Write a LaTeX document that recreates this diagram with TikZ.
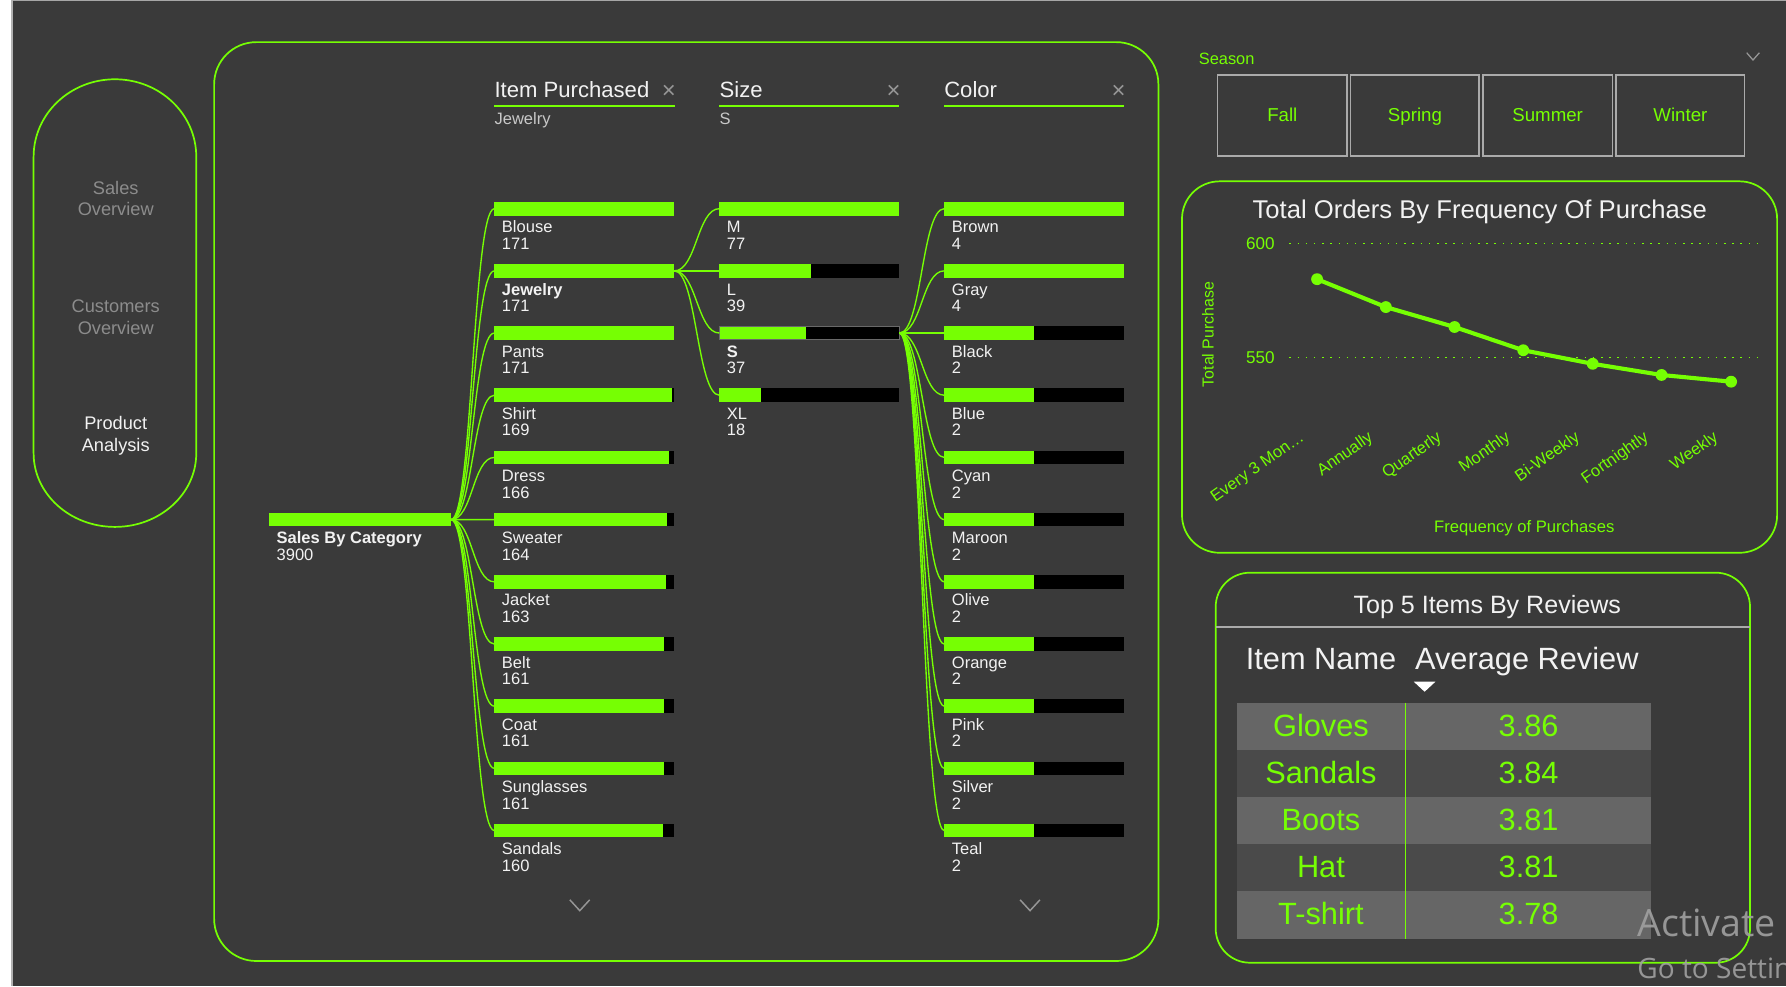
\documentclass[tikz,border=0pt]{standalone}
\usepackage{fontspec}
\setmainfont{Liberation Sans}
\newfontfamily\wmfont{Open Sans}
\definecolor{bg}{RGB}{58,58,58}
\definecolor{grn}{RGB}{118,255,3}
\definecolor{txt}{RGB}{242,242,242}
\definecolor{navgray}{RGB}{140,140,140}
\definecolor{subgray}{RGB}{200,200,200}
\definecolor{xgray}{RGB}{150,150,150}
\definecolor{boxgray}{RGB}{170,170,170}
\definecolor{rowlight}{RGB}{102,102,102}
\definecolor{rowdark}{RGB}{74,74,74}
\definecolor{wm}{RGB}{160,160,160}
\newcommand\fs[1]{\fontsize{#1}{#1}\selectfont}
\begin{document}
\begin{tikzpicture}[x=1pt,y=-1pt,
  frame/.style={draw=grn, line width=1.5pt},
  conn/.style={draw=grn, line width=1.2pt},
  barbg/.style={fill=black, draw=none, inner sep=0, outer sep=0, minimum height=12pt, anchor=north west},
  lbl/.style={text=txt, font=\fs{14.5}, inner sep=0, anchor=base west},
  navtxt/.style={font=\fs{16}, inner sep=0, anchor=base},
  hdr/.style={text=txt, font=\fs{19.4}, inner sep=0, anchor=base west},
  subl/.style={text=subgray, font=\fs{14.5}, inner sep=0, anchor=base west},
  xmark/.style={text=xgray, font=\fs{21}, inner sep=0},
  gtxt/.style={text=grn, inner sep=0},
  chev/.style={draw=xgray, line width=1.3pt},
  seasonbox/.style={draw=boxgray, line width=1.5pt, inner sep=0, anchor=north west, text=grn, font=\fs{16.4}, text height=11.7pt, text depth=0pt},
  cell/.style={text=grn, font=\fs{27}, inner sep=0, anchor=base},
  thead/.style={text=txt, font=\fs{27}, inner sep=0, anchor=base west}
]
\useasboundingbox (0,0) rectangle (1568,866);
% background
\fill[white] (0,0) rectangle (10.5,866);
\fill[bg] (10.5,0) rectangle (1568,866);
\draw[gray!70, line width=1.2pt] (10.5,0.6) -- (1568,0.6);
\draw[gray!60, line width=1pt] (10.5,0) -- (10.5,866);

% navigation pill
\draw[frame] (29.5,137.6) -- (29.5,398)
  arc[start angle=180, end angle=0, x radius=71.4, y radius=64.6]
  -- (172.3,137.6)
  arc[start angle=0, end angle=-180, x radius=71.4, y radius=68];
\node[navtxt, text=navgray] (nav1a) at (101.6,170.6) {Sales};
\node[navtxt, text=navgray] (nav1b) at (101.6,189.6) {Overview};
\node[navtxt, text=navgray] (nav2a) at (101.6,274.5) {Customers};
\node[navtxt, text=navgray] (nav2b) at (101.6,293.3) {Overview};
\node[navtxt, text=txt] (nav3a) at (101.6,377) {Product};
\node[navtxt, text=txt] (nav3b) at (101.6,396) {Analysis};

% main frame
\draw[frame, rounded corners=37pt] (188,37) rectangle (1017,843.7);

% headers
\node[hdr] (hIP) at (434,86) {Item Purchased};
\node[xmark] (xIP) at (587.3,80.5) {×};
\draw[grn, line width=2pt] (434,92.8) -- (592.3,92.8);
\node[subl] (sIP) at (434,109) {Jewelry};
\node[hdr] (hSz) at (631.6,86) {Size};
\node[xmark] (xSz) at (784.5,80.5) {×};
\draw[grn, line width=2pt] (631.6,92.8) -- (789.5,92.8);
\node[subl] (sSz) at (631.6,109.5) {S};
\node[hdr] (hCl) at (828.8,86) {Color};
\node[xmark] (xCl) at (982,80.5) {×};
\draw[grn, line width=2pt] (828.8,92.8) -- (987.1,92.8);

% root
\node[barbg, fill=grn, minimum width=160pt] (root) at (236,450.2) {};
\node[lbl] (rootn) at (242.7,477.4) {\textbf{Sales By Category}};
\node[lbl] (rootv) at (242.7,491.9) {3900};

% items
\foreach \n/\v [count=\k from 0] in {Blouse/171, \textbf{Jewelry}/171, Pants/171, Shirt/169, Dress/166, Sweater/164, Jacket/163, Belt/161, Coat/161, Sunglasses/161, Sandals/160}{
  \pgfmathsetmacro\t{177.2+54.6*\k}
  \pgfmathsetmacro\w{\v/171*158}
  \node[barbg, minimum width=158pt] (i\k) at (434,\t) {};
  \fill[grn] (434,\t) rectangle ++(\w pt,-12pt);
  \node[lbl] (in\k) at ({440.5},{\t+27.2}) {\n};
  \node[lbl] (iv\k) at ({440.5},{\t+41.7}) {\v};
}
% sizes
\foreach \n/\v [count=\k from 0] in {M/77, L/39, \textbf{S}/37, XL/18}{
  \pgfmathsetmacro\t{177.2+54.6*\k}
  \pgfmathsetmacro\w{\v/77*158}
  \node[barbg, minimum width=158pt] (s\k) at (631.6,\t) {};
  \fill[grn] (631.6,\t) rectangle ++(\w pt,-12pt);
  \node[lbl] (sn\k) at ({638},{\t+27.2}) {\n};
  \node[lbl] (sv\k) at ({638},{\t+41.7}) {\v};
}
\draw[draw={rgb,255:red,105;green,105;blue,105}, line width=0.8pt] (s2.north west) rectangle (s2.south east);
% colors
\foreach \n/\v [count=\k from 0] in {Brown/4, Gray/4, Black/2, Blue/2, Cyan/2, Maroon/2, Olive/2, Orange/2, Pink/2, Silver/2, Teal/2}{
  \pgfmathsetmacro\t{177.2+54.6*\k}
  \pgfmathsetmacro\w{\v/4*158}
  \node[barbg, minimum width=158pt] (c\k) at (829,\t) {};
  \fill[grn] (829,\t) rectangle ++(\w pt,-12pt);
  \node[lbl] (cn\k) at ({835.5},{\t+27.2}) {\n};
  \node[lbl] (cv\k) at ({835.5},{\t+41.7}) {\v};
}
% connectors
\foreach \k in {0,...,10}{
  \draw[conn] (root.east) .. controls +(19,0) and +(-19,0) .. (i\k.west);
  \draw[conn] (s2.east) .. controls +(19.7,0) and +(-19.7,0) .. (c\k.west);
}
\foreach \k in {0,...,3}{
  \draw[conn] (i1.east) .. controls +(19.5,0) and +(-19.5,0) .. (s\k.west);
}
% chevrons
\draw[chev] (500.3,790) -- (509,799.5) -- (517.7,790);
\draw[chev] (895.6,790) -- (904.3,799.5) -- (913,790);

% season slicer
\node[gtxt, font=\fs{14.4}, anchor=base west] (season) at (1052.3,56.4) {Season};
\draw[chev, line width=1.1pt] (1533.5,46.3) -- (1539,52.7) -- (1544.6,46.3);
\node[seasonbox, minimum width=113.7pt, minimum height=71pt] (fall) at (1068.2,65) {Fall};
\node[seasonbox, minimum width=113pt, minimum height=71pt] (spring) at (1185,65) {Spring};
\node[seasonbox, minimum width=114pt, minimum height=71pt] (summer) at (1301,65) {Summer};
\node[seasonbox, minimum width=112.6pt, minimum height=71pt] (winter) at (1418.2,65) {Winter};

% line chart panel
\draw[frame, rounded corners=33pt] (1037.7,159.2) rectangle (1560.2,485.3);
\node[text=txt, font=\fs{22.5}, inner sep=0, anchor=base] (ctitle) at (1299.2,191.8) {Total Orders By Frequency Of Purchase};
\draw[grn, line width=1.3pt, dash pattern=on 1.3pt off 5.9pt] (1132,213.8) -- (1543,213.8);
\draw[grn, line width=1.3pt, dash pattern=on 1.3pt off 5.9pt] (1132,313.8) -- (1543,313.8);
\node[gtxt, font=\fs{15}, anchor=base east] (y600) at (1119.2,219.4) {600};
\node[gtxt, font=\fs{15}, anchor=base east] (y550) at (1119.2,319.4) {550};
\node[gtxt, font=\fs{14}, rotate=90] (ylab) at (1060.4,293.6) {Total Purchase};
\coordinate (p1) at (1156.3,245.1);
\coordinate (p2) at (1216.7,269.6);
\coordinate (p3) at (1277.0,287.1);
\coordinate (p4) at (1337.3,307.5);
\coordinate (p5) at (1398.3,319.4);
\coordinate (p6) at (1458.7,329.2);
\coordinate (p7) at (1519.8,335.1);
\draw[grn, line width=3.6pt, line join=round] (p1) -- (p2) -- (p3) -- (p4) -- (p5) -- (p6) -- (p7);
\foreach \i in {1,...,7}{ \fill[grn] (p\i) circle (5.2pt); }
\foreach \x/\t [count=\i] in {1156.3/Every 3 Mon…, 1216.7/Annually, 1277.0/Quarterly, 1337.3/Monthly, 1398.3/Bi-Weekly, 1458.7/Fortnightly, 1519.8/Weekly}{
  \node[gtxt, font=\fs{14.5}, anchor=base east, rotate=35] (xl\i) at ({\x-10.5},386) {\t};
}
\node[gtxt, font=\fs{14.6}, anchor=base] (xlab) at (1338.2,467.7) {Frequency of Purchases};

% table panel
\draw[frame, rounded corners=30pt] (1067.3,502.8) rectangle (1536.4,845.2);
\draw[boxgray, line width=1.8pt] (1067.3,550.2) -- (1536.4,550.2);
\node[text=txt, font=\fs{22}, inner sep=0, anchor=base] (ttitle) at (1305.7,538.5) {Top 5 Items By Reviews};
\node[thead] (th1) at (1093.6,587.6) {Item Name};
\node[thead] (th2) at (1242.2,587.6) {Average Review};
\fill[white] (1241.2,598.5) -- (1260.2,598.5) -- (1250.7,607.3) -- cycle;
\foreach \n/\v/\c [count=\i from 0] in {Gloves/3.86/rowlight, Sandals/3.84/rowdark, Boots/3.81/rowlight, Hat/3.81/rowdark, T-shirt/3.78/rowlight}{
  \pgfmathsetmacro\t{616.9+41.44*\i}
  \fill[\c] (1086,\t) rectangle ({1449.5},{\t+41.44});
  \node[cell] (tn\i) at ({1159.7},{\t+29.3}) {\n};
  \node[cell] (tv\i) at ({1342},{\t+29.3}) {\v};
}
\draw[grn, line width=1pt] (1234,616.9) -- (1234,824.1);

% watermark
\begin{scope}
\clip (0,0) rectangle (1568,866);
\node[text=wm, opacity=0.9, font=\wmfont\fs{33}, inner sep=0, anchor=base west] (wm1) at (1437.4,821.8) {Activate};
\node[text=wm, opacity=0.9, font=\wmfont\fs{24.6}, inner sep=0, anchor=base west] (wm2) at (1437.4,859) {Go to Settings};
\end{scope}
\end{tikzpicture}
\end{document}
